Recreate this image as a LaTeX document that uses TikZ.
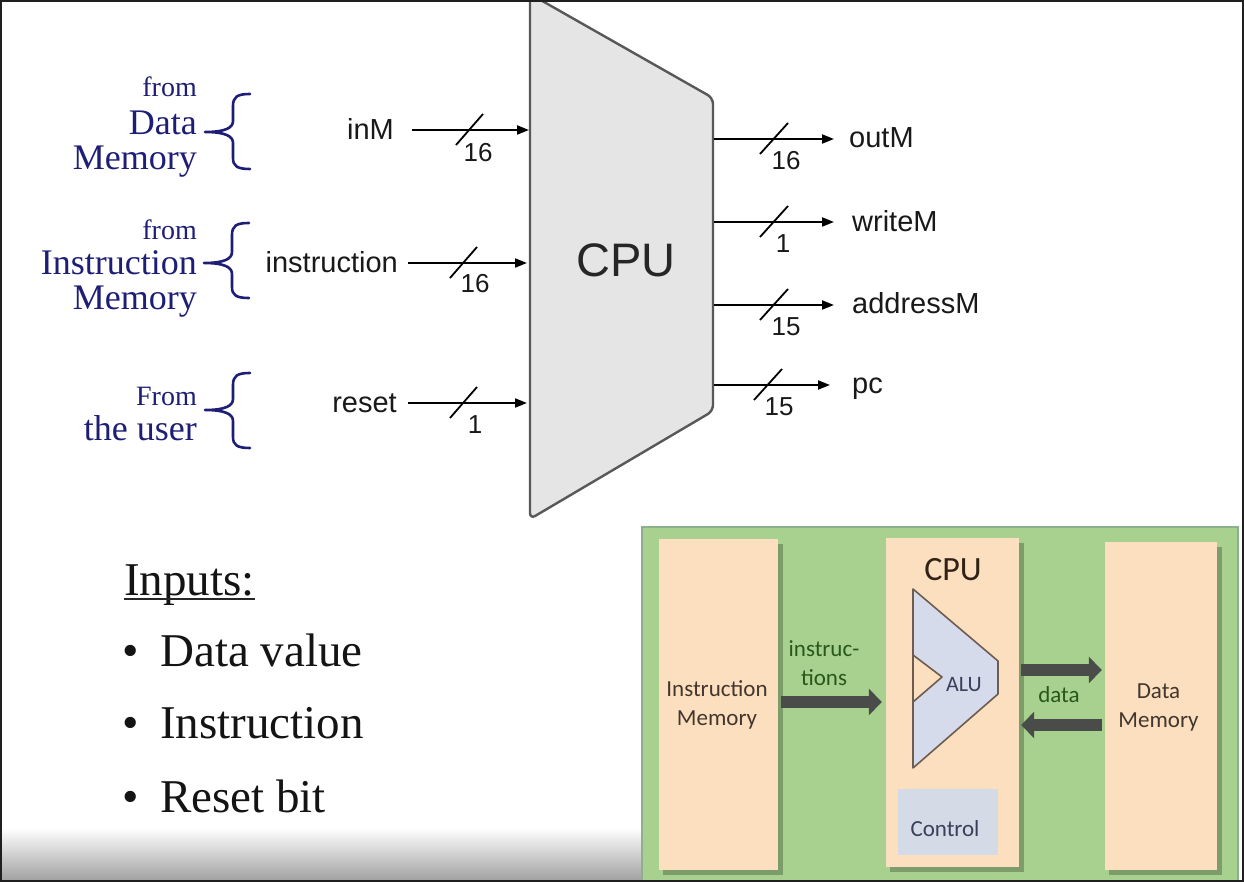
\documentclass[tikz,border=0pt]{standalone}
\usepackage{fontspec}
\setmainfont{Liberation Serif}
\setsansfont{Liberation Sans}
\newfontfamily\calibrifont{Carlito}
\usetikzlibrary{arrows.meta}

\definecolor{navy}{RGB}{30,30,118}
\definecolor{cpugray}{RGB}{229,229,229}
\definecolor{cpuedge}{RGB}{88,88,88}
\definecolor{boardgreen}{RGB}{168,208,142}
\definecolor{boardedge}{RGB}{138,176,142}
\definecolor{peach}{RGB}{252,223,191}
\definecolor{peachshadow}{RGB}{88,116,78}
\definecolor{alublue}{RGB}{213,219,234}
\definecolor{aluedge}{RGB}{110,92,80}
\definecolor{ctrlblue}{RGB}{212,218,230}
\definecolor{bustext}{RGB}{40,88,26}
\definecolor{boxtext}{RGB}{66,54,46}
\definecolor{cputext}{RGB}{50,34,22}
\definecolor{alutext}{RGB}{56,64,90}
\definecolor{fatgray}{RGB}{74,76,74}

\begin{document}
\begin{tikzpicture}[x=1pt,y=-1pt,
  wire/.style={line width=2pt, black, -{Triangle[length=12pt,width=9pt]}},
  buscut/.style={line width=1.8pt, black},
  pinlabel/.style={font=\sffamily\fontsize{29}{34}\selectfont, text=black!90, inner sep=0pt},
  bitlabel/.style={font=\sffamily\fontsize{26}{28}\selectfont, text=black!90, inner sep=0pt},
  srcbig/.style={font=\fontsize{36}{40}\selectfont, text=navy, inner sep=0pt, anchor=base east},
  srcsmall/.style={font=\fontsize{28}{32}\selectfont, text=navy, inner sep=0pt, anchor=base east},
  curly/.style={draw=navy, line width=2.6pt, line cap=round, line join=round},
  listtext/.style={font=\fontsize{47}{52}\selectfont, text=black!92, inner sep=0pt, anchor=base west},
  peachbox/.style={fill=peach, draw=none, inner sep=0pt},
  boxtxt/.style={font=\calibrifont\fontsize{23}{29}\selectfont, text=boxtext, align=center, inner sep=0pt},
  fatarr/.style={line width=12pt, draw=fatgray, -{Triangle[length=13pt,width=26pt]}}
]
\useasboundingbox (0,0) rectangle (1244,882);
\fill[white] (0,0) rectangle (1244,882);

% ---------- CPU block ----------
\filldraw[fill=cpugray, draw=cpuedge, line width=2.4pt, line join=round, rounded corners=6pt]
  (530,-6) -- (713,98) -- (713,411) -- (530,519) -- cycle;
\node[font=\sffamily\fontsize{47}{50}\selectfont, text=black!85] (cpulabel) at (626,260) {CPU};

% ---------- inputs ----------
\node[pinlabel, anchor=base east] (pinInM) at (394,140) {inM};
\coordinate (inMa) at (412,130); \coordinate (inMb) at (529,130);
\draw[wire] (inMa) -- (inMb);
\draw[buscut] (456,145) -- ++(27,-31);
\node[bitlabel] (wInM) at (478,153) {16};

\node[pinlabel, anchor=base east] (pinInstr) at (398,273) {instruction};
\coordinate (insa) at (408,263); \coordinate (insb) at (527,263);
\draw[wire] (insa) -- (insb);
\draw[buscut] (450,278) -- ++(27,-31);
\node[bitlabel] (wInstr) at (475,284) {16};

\node[pinlabel, anchor=base east] (pinReset) at (397,412) {reset};
\coordinate (rsta) at (408,403); \coordinate (rstb) at (527,403);
\draw[wire] (rsta) -- (rstb);
\draw[buscut] (450,418) -- ++(27,-31);
\node[bitlabel] (wReset) at (475,425) {1};

% ---------- outputs ----------
\coordinate (outMa) at (714,139); \coordinate (outMb) at (834,139);
\draw[wire] (outMa) -- (outMb);
\draw[buscut] (760,154) -- ++(28,-31);
\node[bitlabel] (wOutM) at (786,161) {16};
\node[pinlabel, anchor=base west] (pinOutM) at (849,148) {outM};

\coordinate (wrMa) at (714,222); \coordinate (wrMb) at (834,222);
\draw[wire] (wrMa) -- (wrMb);
\draw[buscut] (760,237) -- ++(28,-31);
\node[bitlabel] (wWriteM) at (783,244) {1};
\node[pinlabel, anchor=base west] (pinWriteM) at (852,232) {writeM};

\coordinate (adMa) at (714,305); \coordinate (adMb) at (834,305);
\draw[wire] (adMa) -- (adMb);
\draw[buscut] (760,320) -- ++(28,-31);
\node[bitlabel] (wAddrM) at (786,327) {15};
\node[pinlabel, anchor=base west] (pinAddrM) at (852,314) {addressM};

\coordinate (pca) at (714,385); \coordinate (pcb) at (830,385);
\draw[wire] (pca) -- (pcb);
\draw[buscut] (754,400) -- ++(28,-31);
\node[bitlabel] (wPc) at (779,407) {15};
\node[pinlabel, anchor=base west] (pinPc) at (852,393) {pc};

% ---------- sources of the inputs ----------
\node[srcsmall] (srcA1) at (197,97) {from};
\node[srcbig] (srcA2) at (197,135) {Data};
\node[srcbig] (srcA3) at (197,170) {Memory};
\draw[curly] (250,94) .. controls (237,94) and (233,97) .. (233,106) -- (233,121)
  .. controls (233,128) and (225,132) .. (205,132)
  .. controls (225,132) and (233,136) .. (233,143) -- (233,158)
  .. controls (233,166) and (237,169) .. (250,169);

\node[srcsmall] (srcB1) at (197,240) {from};
\node[srcbig] (srcB2) at (197,275) {Instruction};
\node[srcbig] (srcB3) at (197,310) {Memory};
\draw[curly] (249,223) .. controls (236,223) and (232,226) .. (232,235) -- (232,252)
  .. controls (232,259) and (224,263) .. (204,263)
  .. controls (224,263) and (232,267) .. (232,274) -- (232,287)
  .. controls (232,295) and (236,298) .. (249,298);

\node[srcsmall] (srcC1) at (197,405) {From};
\node[srcbig] (srcC2) at (197,440) {the user};
\draw[curly] (250,373) .. controls (237,373) and (233,376) .. (233,385) -- (233,399)
  .. controls (233,406) and (225,410) .. (205,410)
  .. controls (225,410) and (233,414) .. (233,421) -- (233,437)
  .. controls (233,445) and (237,448) .. (250,448);

% ---------- list of inputs ----------
\node[listtext] (inputsHdr) at (124,595) {Inputs:};
\draw[line width=2pt, black!85] ([yshift=-4pt]inputsHdr.base west) -- ([yshift=-4pt]inputsHdr.base east);
\node[listtext, anchor=base] (bulA) at (131,666) {•};
\node[listtext] (itemA) at (160,666) {Data value};
\node[listtext, anchor=base] (bulB) at (131,738) {•};
\node[listtext] (itemB) at (160,738) {Instruction};
\node[listtext, anchor=base] (bulC) at (131,812) {•};
\node[listtext] (itemC) at (160,812) {Reset bit};

% fade along the lower edge
\shade[top color=white, bottom color=black!38] (0,828) rectangle (642,882);

% ---------- computer overview panel ----------
\filldraw[fill=boardgreen, draw=boardedge, line width=2pt] (642,527) rectangle (1238,888);

\fill[peachshadow, opacity=.55] (663,544) rectangle (783,875);
\fill[peachshadow, opacity=.55] (890,543) rectangle (1024,872);
\fill[peachshadow, opacity=.55] (1109,547) rectangle (1222,875);

\node[peachbox, minimum width=119pt, minimum height=331pt] (imem) at (718.5,704.5) {};
\node[peachbox, minimum width=133pt, minimum height=329pt] (cpubox) at (952.5,702.5) {};
\node[peachbox, minimum width=112pt, minimum height=328pt] (dmem) at (1161,706) {};

\node[boxtxt] (imemtxt) at (717,705) {Instruction\\Memory};
\node[boxtxt] (dmemtxt) at (1158.5,707) {Data\\Memory};
\node[font=\calibrifont\fontsize{34}{38}\selectfont, text=cputext, inner sep=0pt] (cputitle) at (953,570) {CPU};

% ALU inside the CPU
\filldraw[fill=alublue, draw=aluedge, line width=1.6pt, line join=round]
  (913,589) -- (998,661) -- (998,694) -- (913,768) -- cycle;
\filldraw[fill=peach, draw=aluedge, line width=1.6pt, line join=round]
  (913,655) -- (942,677) -- (913,702) -- cycle;
\node[font=\calibrifont\fontsize{22}{26}\selectfont, text=alutext, inner sep=0pt] (alutxt) at (964,685) {ALU};

% control unit
\node[fill=ctrlblue, minimum width=100pt, minimum height=66pt, inner sep=0pt] (ctrl) at (948,822) {};
\node[font=\calibrifont\fontsize{23}{26}\selectfont, text=alutext, inner sep=0pt] (ctrltxt) at (945,829) {Control};

% buses between the units
\coordinate (instrBus) at (0,702);
\draw[fatarr, shorten <=3pt, shorten >=4pt] (imem.east |- instrBus) -- (cpubox.west |- instrBus);
\node[boxtxt, text=bustext] (instrtxt) at (824,663) {instruc-\\tions};
\coordinate (dataHi) at (0,670);
\coordinate (dataLo) at (0,725);
\draw[fatarr, shorten <=2pt, shorten >=3pt] (cpubox.east |- dataHi) -- (dmem.west |- dataHi);
\draw[fatarr, shorten <=3pt, shorten >=2pt] (dmem.west |- dataLo) -- (cpubox.east |- dataLo);
\node[boxtxt, text=bustext] (datatxt) at (1059,695) {data};

% frame
\draw[line width=2.5pt, black!88] (1.2,1.2) rectangle (1242.8,880.8);
\end{tikzpicture}
\end{document}
